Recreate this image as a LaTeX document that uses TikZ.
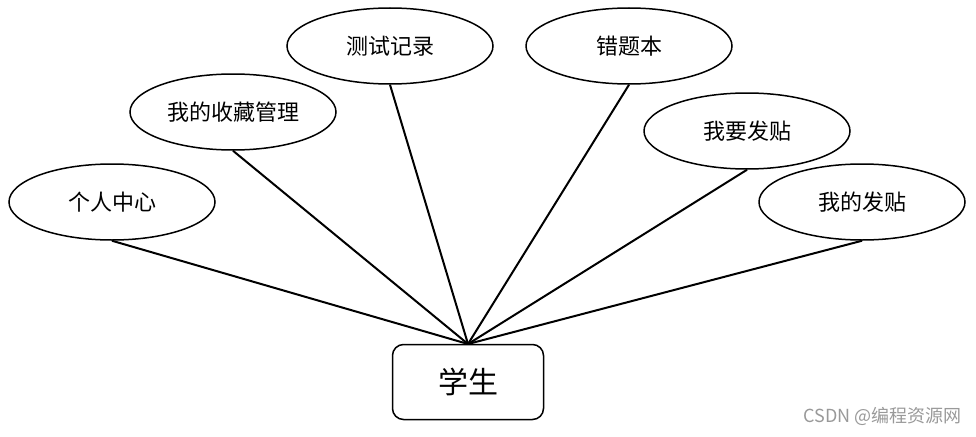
\documentclass[tikz,border=0pt]{standalone}
\usepackage{fontspec}
\newfontfamily\cjk{Noto Sans CJK SC}
\usetikzlibrary{shapes.geometric}
\begin{document}
\begin{tikzpicture}[x=1pt,y=-1pt,
  attr/.style={ellipse,draw,line width=1.5pt,minimum width=206pt,minimum height=76pt,inner sep=0pt,font=\cjk\fontsize{22}{26}\selectfont},
  ent/.style={rectangle,rounded corners=11pt,draw,line width=1.5pt,minimum width=151pt,minimum height=75pt,inner sep=0pt,font=\cjk\fontsize{30}{36}\selectfont},
  link/.style={line width=2pt}]
\useasboundingbox (0,0) rectangle (976,436);
\node[attr] (a1) at (112,202) {个人中心};
\node[attr] (a2) at (233,112) {我的收藏管理};
\node[attr] (a3) at (390,46) {测试记录};
\node[attr] (a4) at (629,46) {错题本};
\node[attr] (a5) at (747,131) {我要发贴};
\node[attr] (a6) at (862,202) {我的发贴};
\node[ent] (s) at (468,382) {学生};
\coordinate (hub) at (468,344);
\foreach \n in {a1,a2,a3,a4,a5,a6} \draw[link] (\n.south) -- (hub);
\node[text=gray!80,font=\cjk\fontsize{18}{22}\selectfont,anchor=east,inner sep=0pt] (wm) at (962,416) {CSDN @编程资源网};
\end{tikzpicture}
\end{document}
